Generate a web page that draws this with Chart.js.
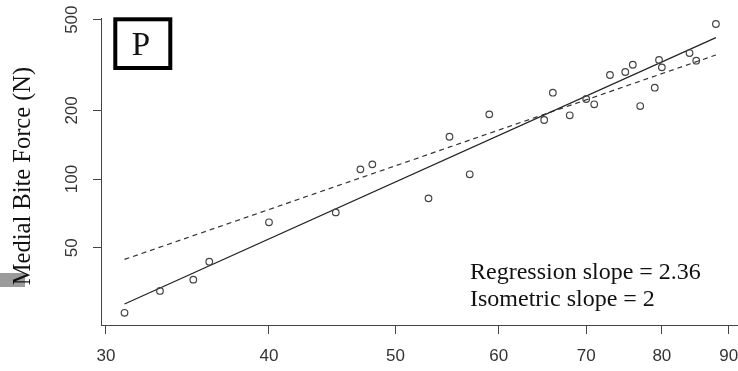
<!DOCTYPE html>
<html>
<head>
<meta charset="utf-8">
<script src="https://cdn.jsdelivr.net/npm/chart.js@4.4.1/dist/chart.umd.min.js"></script>
<style>
  html, body { margin: 0; padding: 0; background: #fff; }
</style>
</head>
<body>
<canvas id="biteChart" width="738" height="371"></canvas>
<script>
// values
const headWidth = [31, 33, 35, 36, 40, 45, 47, 48, 53, 55, 57, 59, 65, 66, 68, 70, 71, 73, 75, 76, 77, 79, 79.6, 80, 84, 85, 88];
const biteForce = [25.9, 32.3, 36.2, 43.4, 64.6, 71.4, 110.3, 116, 82.3, 153.3, 104.9, 192.2, 181.5, 239.1, 190.3, 224.4, 212.7, 285.9, 294.7, 317.2, 209, 251.5, 332.7, 309, 357, 330.3, 478.6];

const fitX = [31, 88];
const regressionY = [28.3, 417];
const isometricY = [44.4, 350];

const xTicks = [30, 40, 50, 60, 70, 80, 90];
const yTicks = [50, 100, 200, 500];

const serif = "'Liberation Serif', 'Times New Roman', serif";
const sans = "'Liberation Sans', Arial, sans-serif";

const annotations = {
  id: "annotations",
  beforeDraw(chart) {
    const c = chart.ctx;
    c.save();
    c.fillStyle = "#9b9b9b";
    c.fillRect(0, 273, 25, 14);
    c.restore();
  },
  afterDraw(chart) {
    const c = chart.ctx;
    c.save();
    // y axis title
    c.save();
    c.translate(24, 176);
    c.rotate(-Math.PI / 2);
    c.fillStyle = "#111";
    c.font = "24.5px " + serif;
    c.textAlign = "center";
    c.textBaseline = "middle";
    c.fillText("Medial Bite Force (N)", 0, 0);
    c.restore();
    // panel letter
    c.lineWidth = 4;
    c.strokeStyle = "#000";
    c.strokeRect(115.3, 19.3, 55, 48.7);
    c.fillStyle = "#111";
    c.font = "33px " + serif;
    c.textAlign = "center";
    c.textBaseline = "alphabetic";
    c.fillText("P", 141, 55);
    // slopes
    c.textAlign = "left";
    c.font = "24px " + serif;
    c.fillText("Regression slope = 2.36", 470, 279);
    c.fillText("Isometric slope = 2", 470, 306);
    c.restore();
  }
};

const ctx = document.getElementById("biteChart");

new Chart(ctx, {
  type: "scatter",
  data: {
    datasets: [
      {
        data: headWidth.map((x, i) => ({ x: x, y: biteForce[i] })),
        pointRadius: 3.3,
        borderColor: "#444",
        borderWidth: 1.2,
        backgroundColor: "rgba(0,0,0,0)"
      },
      {
        type: "line",
        data: fitX.map((x, i) => ({ x: x, y: regressionY[i] })),
        borderColor: "#222",
        borderWidth: 1.2,
        pointRadius: 0,
        fill: false
      },
      {
        type: "line",
        data: fitX.map((x, i) => ({ x: x, y: isometricY[i] })),
        borderColor: "#333",
        borderWidth: 1.2,
        borderDash: [5, 4],
        pointRadius: 0,
        fill: false
      }
    ]
  },
  options: {
    responsive: false,
    animation: false,
    devicePixelRatio: 1,
    layout: { autoPadding: false, padding: { top: 18, right: 0, bottom: 0, left: 0 } },
    plugins: {
      legend: { display: false },
      tooltip: { enabled: false }
    },
    scales: {
      x: {
        type: "logarithmic",
        position: "bottom",
        min: 29.74,
        max: 91.5,
        afterBuildTicks: s => { s.ticks = xTicks.map(v => ({ value: v })); },
        afterFit: s => { s.height = 46; s.paddingLeft = 0; s.paddingRight = 0; },
        ticks: {
          autoSkip: false,
          maxRotation: 0,
          color: "#333",
          padding: 12,
          font: { family: sans, size: 17 },
          callback: v => String(v)
        },
        grid: { display: true, drawOnChartArea: false, drawTicks: true, tickLength: 9, tickColor: "#444" },
        border: { display: true, color: "#444", width: 1 }
      },
      y: {
        type: "logarithmic",
        position: "left",
        min: 22.9,
        max: 508.5,
        afterBuildTicks: s => { s.ticks = yTicks.map(v => ({ value: v })); },
        afterFit: s => { s.width = 101; s.paddingTop = 0; s.paddingBottom = 0; },
        ticks: {
          autoSkip: false,
          minRotation: 90,
          maxRotation: 90,
          crossAlign: "center",
          color: "#333",
          padding: 7,
          font: { family: sans, size: 17 },
          callback: v => String(v)
        },
        grid: { display: true, drawOnChartArea: false, drawTicks: true, tickLength: 8, tickColor: "#444" },
        border: { display: true, color: "#444", width: 1 }
      }
    }
  },
  plugins: [annotations]
});
</script>
</body>
</html>
